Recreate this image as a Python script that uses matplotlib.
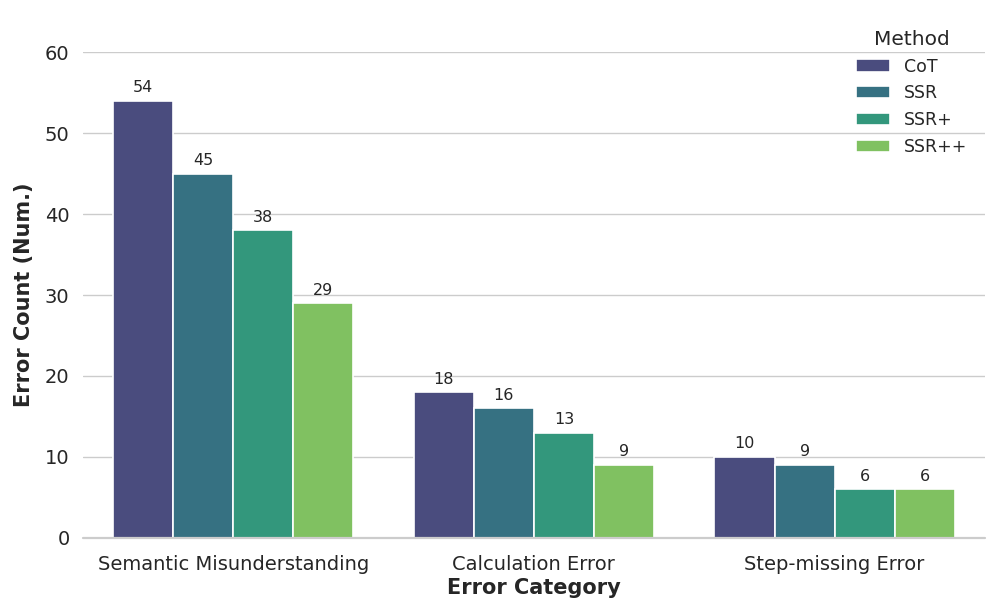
import matplotlib
matplotlib.use("Agg")
import matplotlib.pyplot as plt
import seaborn as sns
import pandas as pd

categories = ["Semantic Misunderstanding", "Calculation Error", "Step-missing Error"]
methods = ["CoT", "SSR", "SSR+", "SSR++"]
counts = {
    "CoT": [54, 18, 10],
    "SSR": [45, 16, 9],
    "SSR+": [38, 13, 6],
    "SSR++": [29, 9, 6],
}

rows = []
for m in methods:
    for c, v in zip(categories, counts[m]):
        rows.append({"Error Category": c, "Method": m, "Count": v})
df = pd.DataFrame(rows)

sns.set_theme(style="whitegrid")
plt.rcParams['font.family'] = ['DejaVu Sans']

fig, ax = plt.subplots(figsize=(9.97, 6.14), dpi=100)
sns.barplot(data=df, x="Error Category", y="Count", hue="Method",
            palette="viridis", saturation=0.75, edgecolor="white", linewidth=1.2, ax=ax)

for cont in ax.containers:
    ax.bar_label(cont, fmt="%d", padding=4, fontsize=11.5)

ax.set_ylim(0, 60)
ax.axhline(0, color="#cccccc", lw=1.6, zorder=3, clip_on=False)
ax.set_xlabel("Error Category", fontsize=15, fontweight="bold", labelpad=3)
ax.set_ylabel("Error Count (Num.)", fontsize=15, fontweight="bold", labelpad=8)
ax.tick_params(axis="both", labelsize=14)
ax.tick_params(axis="x", pad=6)
ax.grid(axis="x", visible=False)
sns.despine(left=True, bottom=True)
ax.legend(title="Method", frameon=False, fontsize=12.5, title_fontsize=14.5,
          loc="upper right", bbox_to_anchor=(0.998, 1.078))

plt.subplots_adjust(left=0.083, right=0.988, bottom=0.124, top=0.915)
plt.savefig("out.png", dpi=100)
